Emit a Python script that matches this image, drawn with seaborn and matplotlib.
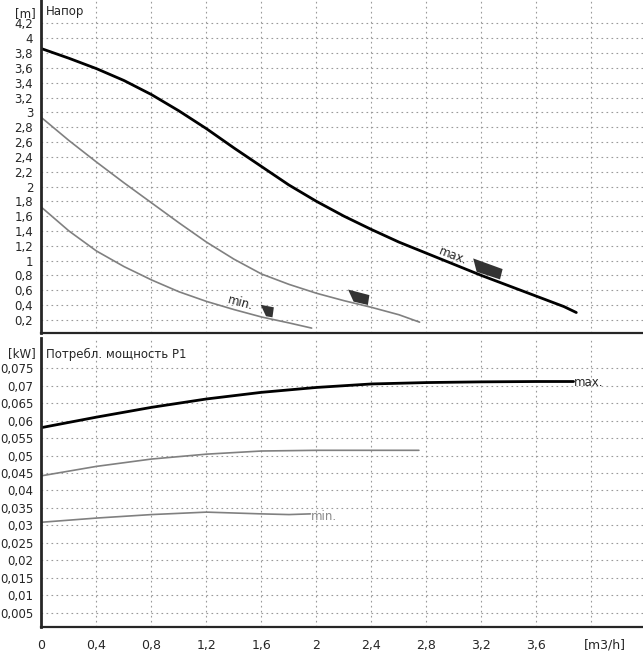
import numpy as np
import pandas as pd
import matplotlib
matplotlib.use('Agg')
import matplotlib.pyplot as plt
import seaborn as sns
from matplotlib.ticker import MultipleLocator, FixedLocator

# --- data ---
# head [m]
q_max_h = [0, 0.2, 0.4, 0.6, 0.8, 1.0, 1.2, 1.4, 1.6, 1.8, 2.0, 2.2, 2.4, 2.6, 2.8, 3.0, 3.2, 3.4, 3.6, 3.8, 3.89]
h_max = [3.86, 3.73, 3.59, 3.43, 3.24, 3.02, 2.78, 2.52, 2.27, 2.02, 1.80, 1.60, 1.42, 1.25, 1.10, 0.95, 0.80, 0.66, 0.52, 0.38, 0.30]
q_mid_h = [0, 0.2, 0.4, 0.6, 0.8, 1.0, 1.2, 1.4, 1.6, 1.8, 2.0, 2.2, 2.4, 2.6, 2.75]
h_mid = [2.93, 2.62, 2.33, 2.05, 1.78, 1.51, 1.25, 1.02, 0.82, 0.68, 0.56, 0.46, 0.37, 0.27, 0.17]
q_min_h = [0, 0.2, 0.4, 0.6, 0.8, 1.0, 1.2, 1.4, 1.6, 1.8, 1.965]
h_min = [1.72, 1.40, 1.13, 0.92, 0.74, 0.58, 0.45, 0.34, 0.24, 0.16, 0.09]

# power P1 [kW]
q_max_p = [0, 0.4, 0.8, 1.2, 1.6, 2.0, 2.4, 2.8, 3.2, 3.6, 3.87]
p_max = [0.0580, 0.0610, 0.0638, 0.0662, 0.0681, 0.0695, 0.0705, 0.0709, 0.0711, 0.0712, 0.0712]
q_mid_p = [0, 0.4, 0.8, 1.2, 1.6, 2.0, 2.4, 2.745]
p_mid = [0.0442, 0.0469, 0.0490, 0.0504, 0.0513, 0.0515, 0.0515, 0.0515]
q_min_p = [0, 0.4, 0.8, 1.2, 1.6, 1.8, 1.956]
p_min = [0.0309, 0.0321, 0.0331, 0.0338, 0.0333, 0.0331, 0.0333]

# operating point handles (dark quadrilaterals) in data coords
handle_min = [(1.594, 0.405), (1.69, 0.37), (1.68, 0.235), (1.633, 0.25)]
handle_mid = [(2.23, 0.61), (2.385, 0.535), (2.374, 0.402), (2.27, 0.447)]
handle_max = [(3.14, 1.03), (3.354, 0.886), (3.335, 0.747), (3.165, 0.85)]

x_ticks = [0, 0.4, 0.8, 1.2, 1.6, 2.0, 2.4, 2.8, 3.2, 3.6]
h_ticks = [0.2, 0.4, 0.6, 0.8, 1.0, 1.2, 1.4, 1.6, 1.8, 2.0, 2.2, 2.4, 2.6, 2.8, 3.0, 3.2, 3.4, 3.6, 3.8, 4.0, 4.2]
p_ticks = [0.005, 0.01, 0.015, 0.02, 0.025, 0.03, 0.035, 0.04, 0.045, 0.05, 0.055, 0.06, 0.065, 0.07, 0.075]


def comma(v):
    return f"{round(v, 4):g}".replace('.', ',')


sns.set_style('white')
plt.rcParams['font.family'] = ['DejaVu Sans']
FS = 8.5

fig = plt.figure(figsize=(6.43, 6.56), dpi=100)
ax1 = fig.add_axes([0.0645, 0.4924, 0.9355, 0.5076])
ax2 = fig.add_axes([0.0645, 0.0447, 0.9355, 0.4408])

grid_kw = dict(color='#9a9a9a', lw=0.8, ls=(0, (1.5, 3)))

for ax in (ax1, ax2):
    ax.set_xlim(0, 4.375)
    for s in ('top', 'right'):
        ax.spines[s].set_visible(False)
    ax.spines['left'].set_linewidth(2)
    ax.spines['bottom'].set_linewidth(1.6)
    for xv in x_ticks[1:] + [4.0]:
        ax.axvline(xv, **grid_kw, zorder=0)
    ax.tick_params(axis='y', which='major', direction='out', length=5, width=1, labelsize=FS, pad=1)
    ax.tick_params(axis='y', which='minor', direction='out', length=3, width=1)

# ---- top panel: head ----
ax1.set_ylim(0.024, 4.516)
for yv in h_ticks:
    ax1.axhline(yv, **grid_kw, zorder=0)
sns.lineplot(x=q_max_h, y=h_max, ax=ax1, color='black', lw=2, estimator=None, sort=False)
sns.lineplot(x=q_mid_h, y=h_mid, ax=ax1, color='#808080', lw=1.2, estimator=None, sort=False)
sns.lineplot(x=q_min_h, y=h_min, ax=ax1, color='#808080', lw=1.2, estimator=None, sort=False)
for poly in (handle_min, handle_mid, handle_max):
    xs, ys = zip(*poly)
    ax1.fill(xs, ys, color='#333333', lw=0)
ax1.text(2.99, 1.06, 'max.', rotation=-21, ha='center', va='center', fontsize=FS)
ax1.text(1.45, 0.43, 'min.', rotation=-15, ha='center', va='center', fontsize=FS)
ax1.yaxis.set_major_locator(FixedLocator(h_ticks))
ax1.set_yticklabels([comma(v) for v in h_ticks])
ax1.yaxis.set_minor_locator(MultipleLocator(0.05))
ax1.set_xticks([])
ax1.text(-0.01, 4.34, '[m]', transform=ax1.get_yaxis_transform(), ha='right', va='center', fontsize=FS)
ax1.text(0.007, 0.965, 'Напор', transform=ax1.transAxes, ha='left', va='center', fontsize=FS)

# ---- bottom panel: power ----
ax2.set_ylim(0.001, 0.0838)
for yv in p_ticks:
    ax2.axhline(yv, **grid_kw, zorder=0)
sns.lineplot(x=q_max_p, y=p_max, ax=ax2, color='black', lw=2, estimator=None, sort=False)
sns.lineplot(x=q_mid_p, y=p_mid, ax=ax2, color='#808080', lw=1.2, estimator=None, sort=False)
sns.lineplot(x=q_min_p, y=p_min, ax=ax2, color='#808080', lw=1.2, estimator=None, sort=False)
ax2.text(q_max_p[-1] + 0.005, p_max[-1] - 0.0003, 'max.', ha='left', va='center', fontsize=FS)
ax2.text(q_min_p[-1] + 0.005, p_min[-1] - 0.0008, 'min.', ha='left', va='center', fontsize=FS, color='#8a8a8a')
ax2.yaxis.set_major_locator(FixedLocator(p_ticks))
ax2.set_yticklabels([comma(v) for v in p_ticks])
ax2.yaxis.set_minor_locator(MultipleLocator(0.001))
ax2.text(-0.01, 0.0793, '[kW]', transform=ax2.get_yaxis_transform(), ha='right', va='center', fontsize=FS)
ax2.text(0.007, 0.943, 'Потребл. мощность P1', transform=ax2.transAxes, ha='left', va='center', fontsize=FS)

ax2.xaxis.set_major_locator(FixedLocator(x_ticks + [4.0]))
ax2.set_xticklabels([comma(v) for v in x_ticks] + [''])
ax2.xaxis.set_minor_locator(MultipleLocator(0.1))
ax2.tick_params(axis='x', which='major', direction='out', length=6, width=1, labelsize=FS + 0.5, pad=3)
ax2.tick_params(axis='x', which='minor', direction='out', length=4, width=1)
ax2.text(4.1, -0.064, '[m3/h]', transform=ax2.get_xaxis_transform(), ha='center', va='center', fontsize=FS + 0.5)

fig.savefig('out.png', dpi=100)
